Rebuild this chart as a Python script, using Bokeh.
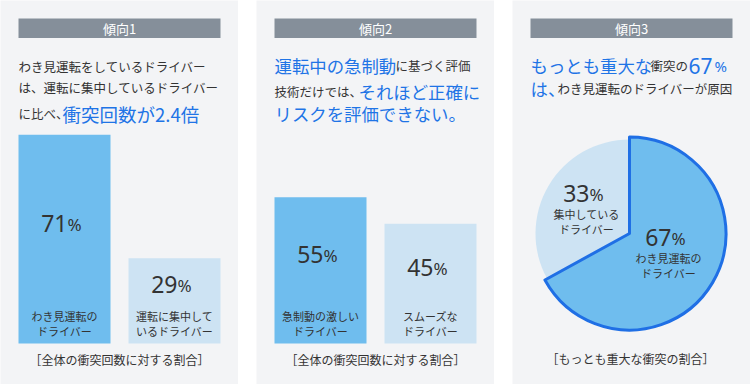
import math
from bokeh.plotting import figure
from bokeh.layouts import row
from bokeh.models import Range1d
from bokeh.core.properties import value
from bokeh.embed import file_html
from bokeh.resources import INLINE

# ---------------- data ----------------
trend_titles = ["傾向1", "傾向2", "傾向3"]

p1_values = [71, 29]
p1_labels = [["わき見運転の", "ドライバー"], ["運転に集中して", "いるドライバー"]]
p2_values = [55, 45]
p2_labels = [["急制動の激しい", "ドライバー"], ["スムーズな", "ドライバー"]]
p3_values = [67, 33]
p3_labels = [["わき見運転の", "ドライバー"], ["集中している", "ドライバー"]]

captions = ["［全体の衝突回数に対する割合］",
            "［全体の衝突回数に対する割合］",
            "［もっとも重大な衝突の割合］"]

# headline segments: (text, style)
p1_head = [[("わき見運転をしているドライバー", "s")],
           [("は、運転に集中しているドライバー", "s")],
           [("に比べ、", "s"), ("衝突回数が2.4倍", "bn")]]
p2_head = [[("運転中の急制動", "b"), ("に基づく評価", "s")],
           [("技術だけでは、", "s"), ("それほど正確に", "b")],
           [("リスクを評価できない。", "b")]]
p3_head = [[("もっとも重大な", "b"), ("衝突の", "s"), ("67", "n"), ("%", "pct")],
           [("は、", "b"), ("わき見運転のドライバーが原因", "s")]]

# ---------------- style / layout ----------------
BG = "#f3f4f6"
GRAY = "#858f9a"
DARK = "#6fbdee"
LIGHT = "#cde3f3"
BLUE = "#1f74e6"
OUTLINE = "#1f6fe5"
TXT = "#333333"
JP = "Noto Sans CJK JP"
NUM = "Noto Sans"
H = 384

p1_seg_x = [[18], [18], [18, 62]]
p1_base = [66, 87, 113]
p2_seg_x = [[274, 395], [274, 358], [274]]
p2_base = [65, 91, 113]
p3_seg_x = [[530, 650, 688, 714], [530, 557]]
p3_base = [65, 88]

STYLES = {
    "s": ("12.5px", TXT, JP),
    "b": ("17.4px", BLUE, JP),
    "bn": ("18.5px", BLUE, JP),
    "n": ("21px", BLUE, NUM),
    "pct": ("15px", BLUE, NUM),
}


def base_fig(width, xr, yr):
    p = figure(width=width, height=H, x_range=xr, y_range=yr,
               output_backend="svg", toolbar_location=None,
               x_axis_location=None, y_axis_location=None, min_border=0)
    p.grid.visible = False
    p.outline_line_color = None
    p.background_fill_color = BG
    p.border_fill_color = BG
    return p


def txt(p, x, y, t, size, color=TXT, align="center", baseline="middle", font=JP, xo=0):
    p.text(x=[x], y=[y], text=[t], text_font=value(font), text_font_size=value(size),
           text_color=color, text_align=align, text_baseline=baseline, x_offset=xo)


def headline(p, X, Y, segs, xs, bases):
    for line, xl, b in zip(segs, xs, bases):
        for (t, st), xp in zip(line, xl):
            size, color, font = STYLES[st]
            txt(p, X(xp), Y(b), t, size, color, "left", "alphabetic", font)


def pct_label(p, x, y, v, dy):
    txt(p, x, y, str(v), "23px", TXT, "right", "middle", NUM, xo=3)
    txt(p, x, y - dy, "%", "17px", TXT, "left", "middle", NUM, xo=3)


def bar_panel(x0, width, scale, title, values, labels, segs, seg_x, bases, caption):
    base = 343.0
    X = lambda xp: xp - x0
    Y = lambda yp: (base - yp) / scale
    p = base_fig(width, Range1d(0, width), Range1d(Y(H), Y(0)))
    left = x0 + 18
    p.quad(left=[X(left)], right=[X(left + 202)], top=[Y(18)], bottom=[Y(37.5)],
           fill_color=GRAY, line_color=None)
    txt(p, X(left + 101), Y(28), title, "13px", "white")
    headline(p, X, Y, segs, seg_x, bases)
    centers = [X(left + 46 + 110 * i) for i in range(len(values))]
    colors = [DARK, LIGHT]
    p.vbar(x=centers, top=values, bottom=0, width=92, fill_color=colors, line_color=None)
    for c, v, lab in zip(centers, values, labels):
        ylab = (v + Y(305)) / 2 - 3 / scale
        pct_label(p, c, ylab, v, 1 / scale)
        txt(p, c, Y(315), lab[0], "11px")
        txt(p, c, Y(330), lab[1], "11px")
    txt(p, X(left + 101), Y(359), caption, "12px")
    return p


p1 = bar_panel(0, 238, 2.94, trend_titles[0], p1_values, p1_labels,
               p1_head, p1_seg_x, p1_base, captions[0])
p2 = bar_panel(256, 238, 2.66, trend_titles[1], p2_values, p2_labels,
               p2_head, p2_seg_x, p2_base, captions[1])

# ---------------- pie panel ----------------
x0 = 512
X = lambda xp: xp - x0
Y = lambda yp: H - yp
p3 = base_fig(238, Range1d(0, 238), Range1d(0, H))
p3.quad(left=[X(530)], right=[X(732)], top=[Y(18)], bottom=[Y(37.5)],
        fill_color=GRAY, line_color=None)
txt(p3, X(631), Y(28), trend_titles[2], "13px", "white")
headline(p3, X, Y, p3_head, p3_seg_x, p3_base)

cx, cy = X(629), Y(233)
ends, starts = [], []
a = math.pi / 2
for v in p3_values:
    ends.append(a)
    a = a - 2 * math.pi * v / 100
    starts.append(a)
p3.wedge(x=[cx], y=[cy], radius=94, start_angle=[starts[1]], end_angle=[ends[1]],
         fill_color=LIGHT, line_color=None)
p3.wedge(x=[cx], y=[cy], radius=96.5, start_angle=[starts[0]], end_angle=[ends[0]],
         fill_color=DARK, line_color=OUTLINE, line_width=3, line_join="round")

label_pos = [(668, 237), (586, 193)]
for (lx, ly), v, lab in zip(label_pos, p3_values, p3_labels):
    pct_label(p3, X(lx), Y(ly), v, 1)
    txt(p3, X(lx), Y(ly + 20), lab[0], "11px")
    txt(p3, X(lx), Y(ly + 35), lab[1], "11px")
txt(p3, X(630), Y(358), captions[2], "12px")

layout = row(p1, p2, p3, spacing=18)
open("out.html", "w").write(file_html(layout, INLINE))
